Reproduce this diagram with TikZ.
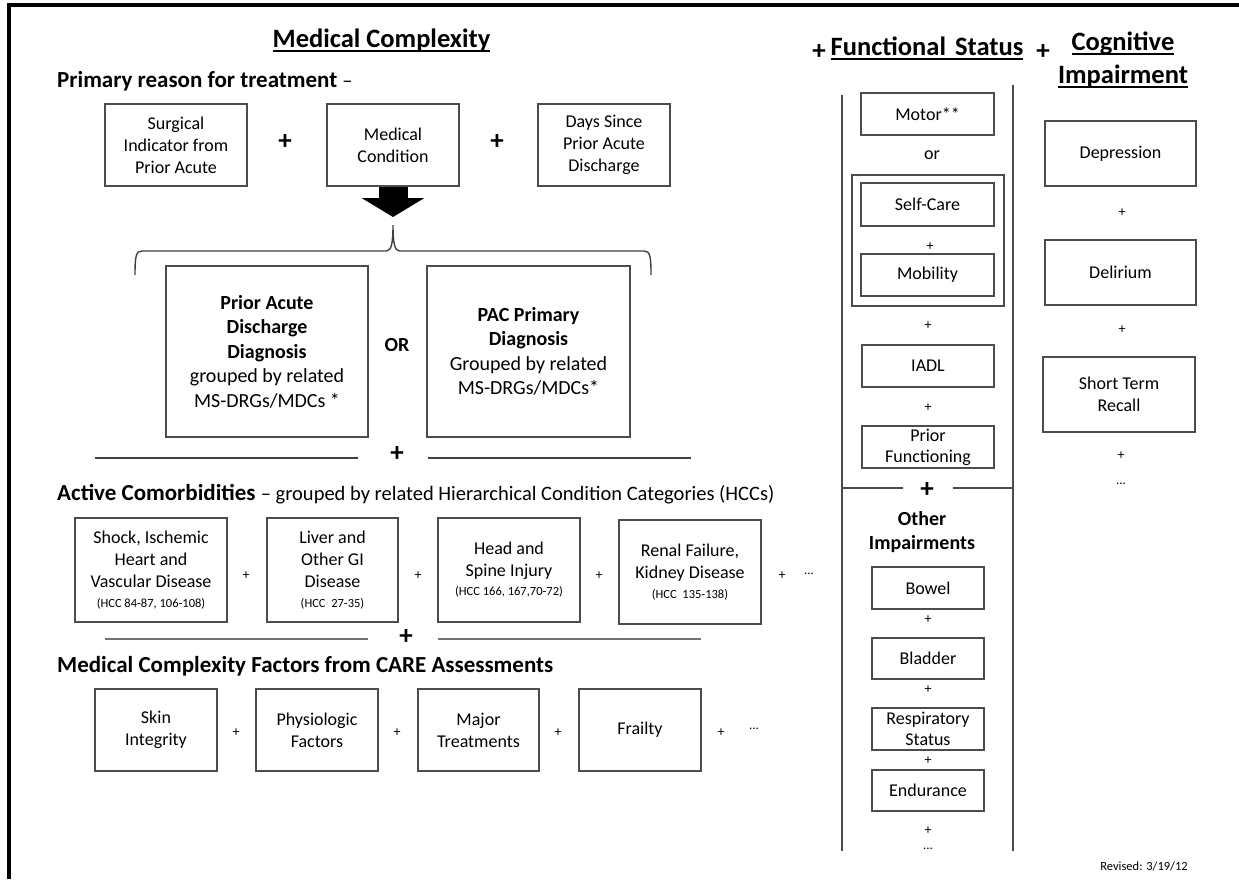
\documentclass[tikz,border=0pt]{standalone}
\usepackage{fontspec}
\setmainfont{Carlito}
\usetikzlibrary{arrows.meta}

% underlined heading text
\newcommand{\ulined}[1]{\setbox0\hbox{#1}\rlap{\rule[-4.5pt]{\wd0}{2pt}}\box0}
\newcommand{\hccsize}{\fontsize{12.5}{14}\selectfont}
\newcommand{\plainpart}{\fontsize{20.5}{26}\mdseries\selectfont}

\begin{document}
\begin{tikzpicture}[x=1pt, y=-1pt,
  box/.style={draw=black!70, line width=1.5pt, inner sep=0pt, align=center,
    font=\fontsize{18}{22}\selectfont},
  bigbox/.style={box, font=\fontsize{20}{24.5}\selectfont},
  title/.style={align=center, font=\fontsize{26.5}{33}\bfseries\selectfont},
  heading/.style={anchor=base west, inner sep=0pt, font=\fontsize{23}{26}\bfseries\selectfont},
  bigplus/.style={font=\fontsize{27}{27}\bfseries\selectfont},
  smallplus/.style={font=\fontsize{14}{14}\selectfont},
  dots/.style={font=\fontsize{13}{14}\selectfont},
  rule/.style={draw=black!75, line width=1.3pt},
  frame/.style={draw=black!70, line width=1.5pt}]
  \useasboundingbox (0,0) rectangle (1239,879);

  % Page frame (top and left)
  \draw[line width=4pt] (9,879) -- (9,5) -- (1239,5);

  % Medical complexity
  \node[title, anchor=base] (medtitle) at (381.5,47) {\ulined{Medical Complexity}};
  \node[heading] (primary) at (57,87) {Primary reason for treatment {\plainpart --}};

  % Primary reason boxes
  \node[box, minimum width=142, minimum height=82] (surgical) at (176,145) {Surgical\\Indicator from\\Prior Acute};
  \node[bigplus] (plusa) at (285,142) {+};
  \node[box, minimum width=132, minimum height=82] (medcond) at (393,145) {Medical\\Condition};
  \node[bigplus] (plusb) at (497,142) {+};
  \node[box, minimum width=132, minimum height=82] (days) at (604,145) {Days Since\\Prior Acute\\Discharge};

  % Arrow down to the brace
  \coordinate (arrowtip) at (393,217);
  \coordinate (bracetip) at (393,225);
  \draw[line width=29pt, -{Triangle[width=62pt, length=19pt]}] (medcond.south) -- (arrowtip);
  \draw[black!75, line width=1.4pt]
     (135,275) .. controls (135,256) and (136,251) .. (142,251) -- (386,251)
     .. controls (391,251) and (393,245) .. (bracetip)
     .. controls (393,245) and (395,251) .. (400,251) -- (644,251)
     .. controls (650,251) and (651,256) .. (651,275);

  % Diagnosis boxes
  \node[bigbox, minimum width=202, minimum height=171] (priordx) at (267,351.5)
     {\textbf{Prior Acute}\\\textbf{Discharge}\\\textbf{Diagnosis}\\grouped by related\\MS-DRGs/MDCs *};
  \node[font=\fontsize{20}{24}\bfseries\selectfont] (orlabel) at (397,345) {OR};
  \node[bigbox, minimum width=203, minimum height=171] (pacdx) at (528.5,351.5)
     {\textbf{PAC Primary}\\\textbf{Diagnosis}\\Grouped by related\\MS-DRGs/MDCs*};

  % Separator
  \node[bigplus] (plusc) at (397,454) {+};
  \draw[rule] (95,458) -- (358,458);
  \draw[rule] (428,458) -- (691,458);

  % Active comorbidities
  \node[heading] (comorb) at (57,500) {Active Comorbidities {\plainpart -- grouped by related Hierarchical Condition Categories (HCCs)}};
  \node[box, minimum width=152, minimum height=104] (shock) at (151,570)
     {Shock, Ischemic\\Heart and\\Vascular Disease\\[-2pt]{\hccsize (HCC 84-87, 106-108)}};
  \node[smallplus] (plusd) at (246,576) {+};
  \node[box, minimum width=131, minimum height=104] (liver) at (332.5,570)
     {Liver and\\Other GI\\Disease\\[-2pt]{\hccsize (HCC\ \ 27-35)}};
  \node[smallplus] (pluse) at (418,576) {+};
  \node[box, minimum width=142, minimum height=104] (head) at (509,570)
     {Head and\\Spine Injury\\[-3pt]{\hccsize (HCC 166, 167,70-72)}};
  \node[smallplus] (plusf) at (599,576) {+};
  \node[box, minimum width=142, minimum height=104] (renal) at (690,572)
     {Renal Failure,\\Kidney Disease\\[-2pt]{\hccsize (HCC\ \ 135-138)}};
  \node[smallplus] (plusg) at (782,576) {+};
  \node[dots] (dotsa) at (809,574) {...};

  % Separator
  \node[bigplus] (plush) at (406,637) {+};
  \draw[rule, draw=black!55, line width=2.4pt] (105,639) -- (368,639);
  \draw[rule, draw=black!55, line width=2.4pt] (438,639) -- (701,639);

  % CARE assessment factors
  \node[heading] (care) at (57,672) {Medical Complexity Factors from CARE Assessments};
  \node[box, minimum width=122, minimum height=82] (skin) at (156,730) {Skin\\Integrity};
  \node[smallplus] (plusi) at (236,733) {+};
  \node[box, minimum width=122, minimum height=82] (physio) at (317,730) {Physiologic\\Factors};
  \node[smallplus] (plusj) at (397,733) {+};
  \node[box, minimum width=121, minimum height=82] (major) at (478.5,730) {Major\\Treatments};
  \node[smallplus] (plusk) at (558,733) {+};
  \node[box, minimum width=122, minimum height=82] (frailty) at (640,730) {Frailty};
  \node[smallplus] (plusl) at (721,733) {+};
  \node[dots] (dotsb) at (754,729) {...};

  % Functional status
  \node[bigplus] (plusm) at (819,52) {+};
  \node[title, anchor=base] (fstitle) at (927,55) {\ulined{Functional\hspace{0.34em}Status}};
  \draw[frame] (842,95) -- (842,851);
  \draw[frame] (1013,85) -- (1013,851);
  \node[box, minimum width=133, minimum height=42] (motor) at (927.5,114) {Motor**};
  \node[font=\fontsize{18}{22}\selectfont] (orfs) at (932,155) {or};
  \node[box, minimum width=152, minimum height=131] (scgroup) at (928,240.5) {};
  \node[box, minimum width=133, minimum height=43] (selfcare) at (927.5,204.5) {Self-Care};
  \node[smallplus] (plusn) at (930,247) {+};
  \node[box, minimum width=133, minimum height=42] (mobility) at (927.5,275) {Mobility};
  \node[smallplus] (pluso) at (928,326) {+};
  \node[box, minimum width=132, minimum height=42] (iadl) at (928,366) {IADL};
  \node[smallplus] (plusp) at (928,408) {+};
  \node[box, minimum width=132, minimum height=42, font=\fontsize{18}{21}\selectfont] (priorfn) at (928,447) {Prior\\Functioning};

  % Other impairments
  \node[bigplus] (plusq) at (927,490) {+};
  \draw[frame] (842,488) -- (903,488);
  \draw[frame] (953,488) -- (1013,488);
  \node[align=center, font=\fontsize{20}{23.5}\bfseries\selectfont] (other) at (922,532) {Other\\Impairments};
  \node[box, minimum width=112, minimum height=42] (bowel) at (928,588) {Bowel};
  \node[smallplus] (plusr) at (928,620) {+};
  \node[box, minimum width=112, minimum height=41] (bladder) at (928,658.5) {Bladder};
  \node[smallplus] (pluss) at (928,690) {+};
  \node[box, minimum width=112, minimum height=42, font=\fontsize{18}{21}\selectfont] (resp) at (928,729) {Respiratory\\Status};
  \node[smallplus] (plust) at (928,761) {+};
  \node[box, minimum width=112, minimum height=41] (endur) at (928,790.5) {Endurance};
  \node[smallplus] (plusu) at (928,831) {+};
  \node[dots] (dotsc) at (928,849) {...};

  % Cognitive impairment
  \node[bigplus] (plusv) at (1043,52) {+};
  \node[title] (cititle) at (1123,60) {\ulined{Cognitive}\\\ulined{Impairment}};
  \node[box, minimum width=151, minimum height=65] (depr) at (1120.5,153.5) {Depression};
  \node[smallplus] (plusw) at (1122,213) {+};
  \node[box, minimum width=151, minimum height=65] (delir) at (1120.5,272.5) {Delirium};
  \node[smallplus] (plusx) at (1122,330) {+};
  \node[box, minimum width=152, minimum height=75] (recall) at (1119,394.5) {Short Term\\Recall};
  \node[smallplus] (plusy) at (1121,456) {+};
  \node[dots] (dotsd) at (1121,484) {...};

  % Revision note
  \node[font=\fontsize{12.5}{14}\selectfont] (revised) at (1144,866) {Revised: 3/19/12};
\end{tikzpicture}
\end{document}
